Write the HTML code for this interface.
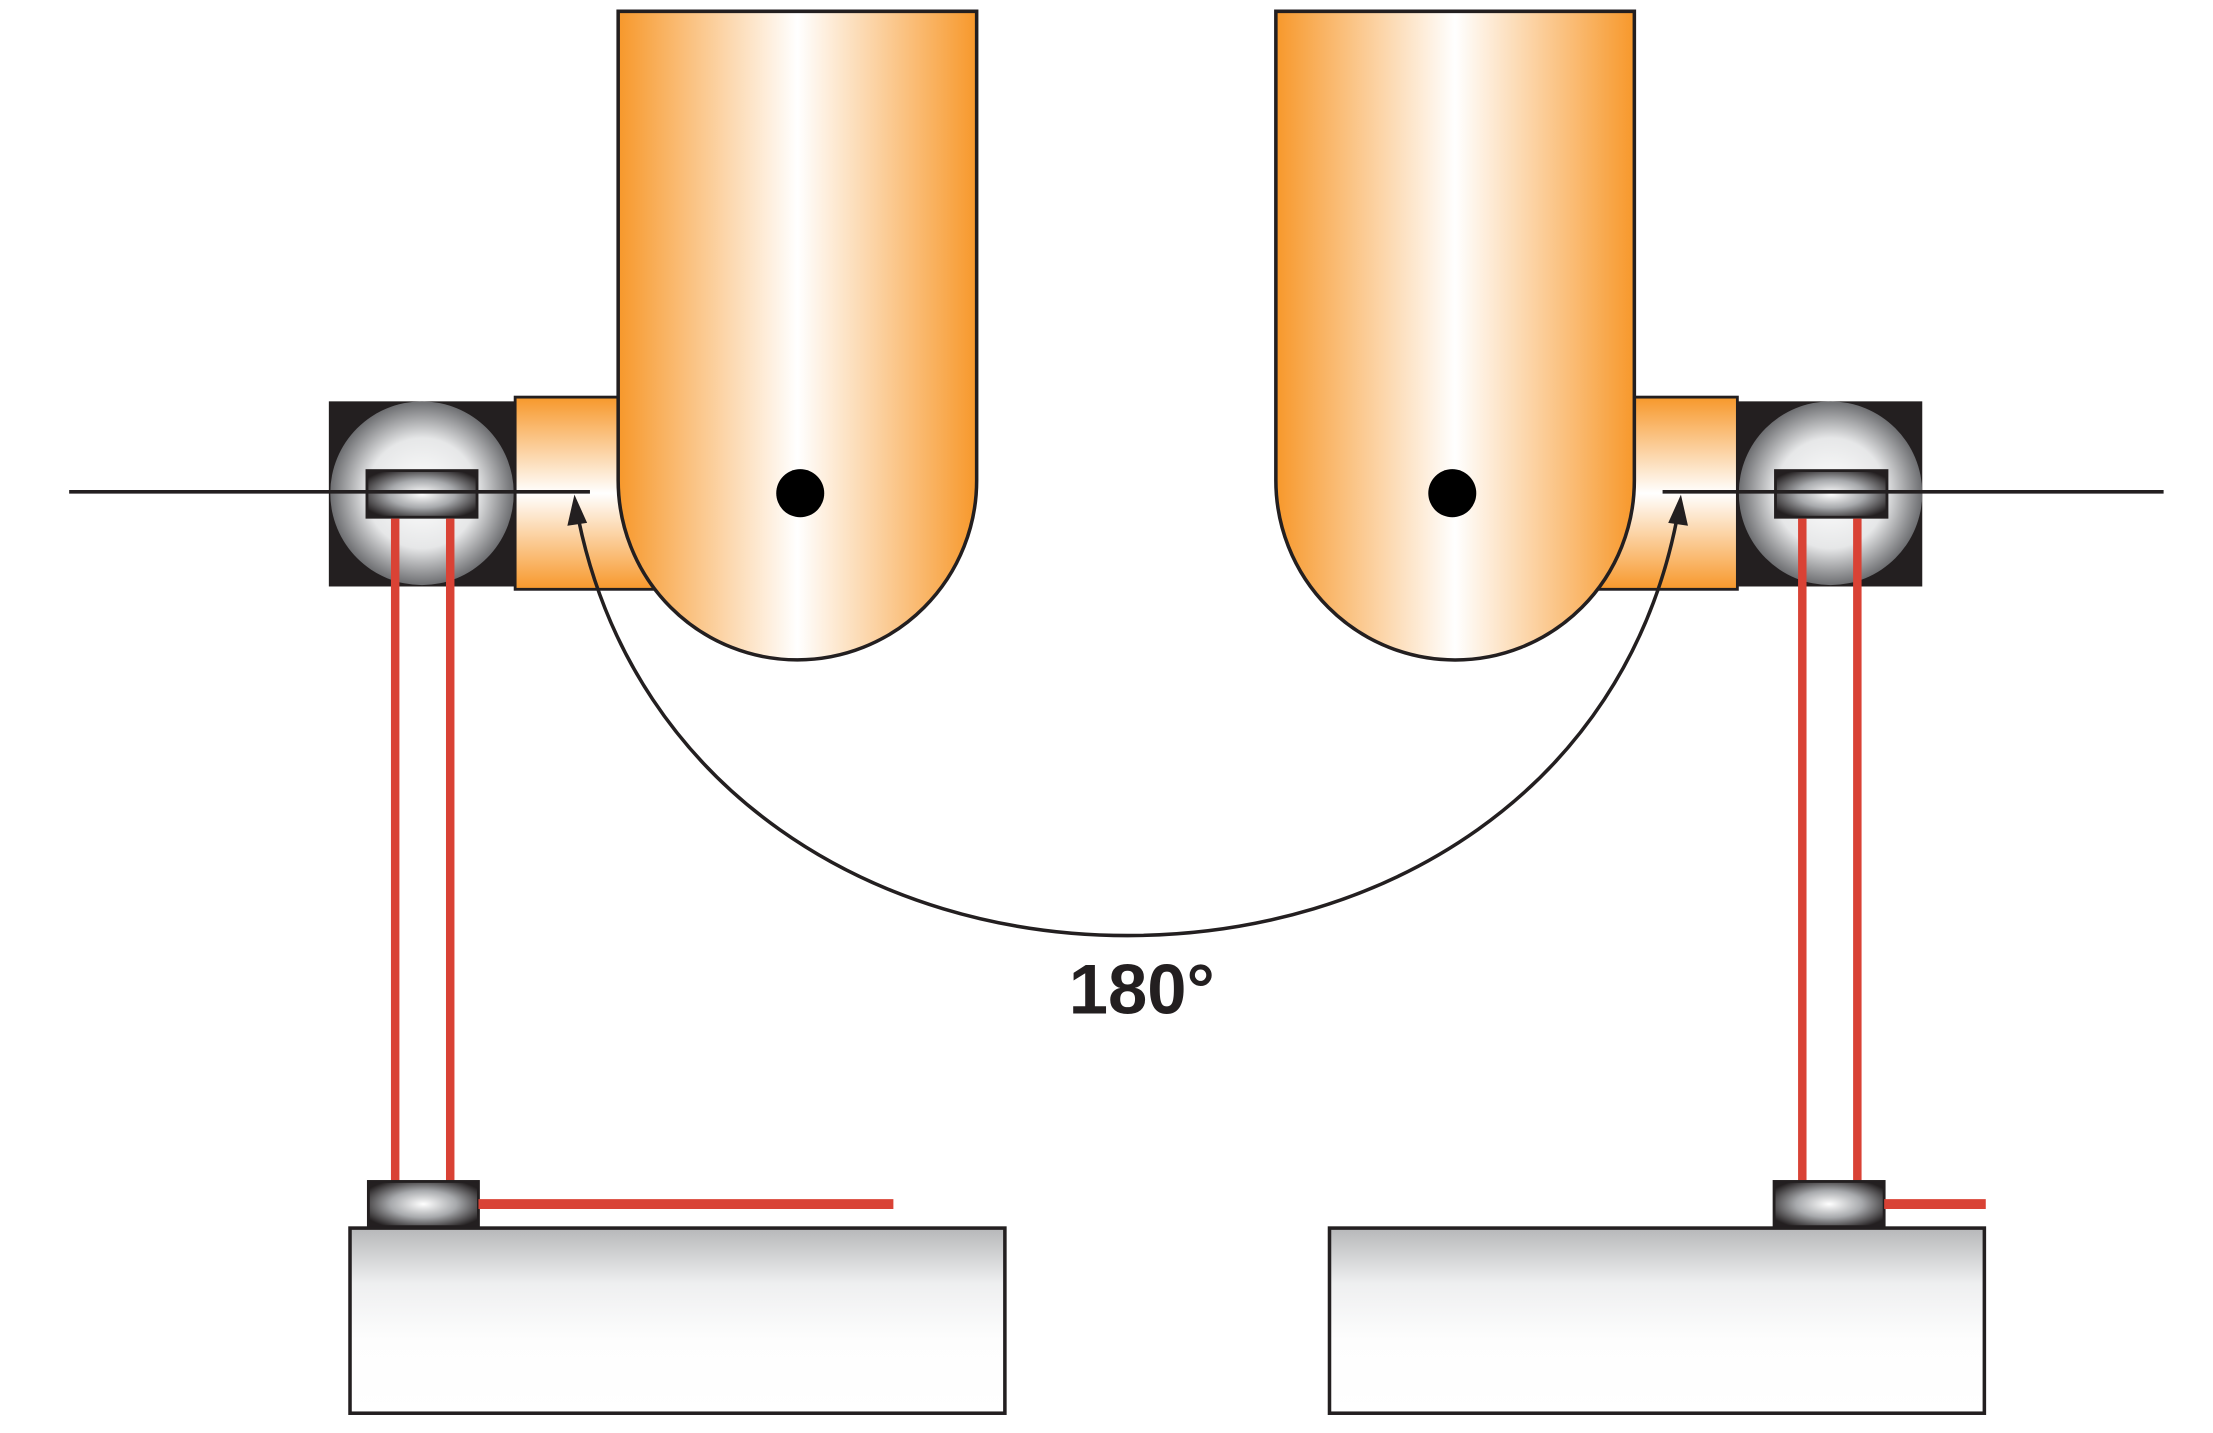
<!DOCTYPE html>
<html><head><meta charset="utf-8"><style>
html,body{margin:0;padding:0;background:#fff;}
svg{display:block;}
</style></head><body>
<svg width="2213" height="1433" viewBox="0 0 1568 1014" preserveAspectRatio="none" xmlns="http://www.w3.org/2000/svg">
<defs>
<linearGradient id="tube" x1="0" x2="1" y1="0" y2="0">
<stop offset="0" stop-color="#f7982b"/><stop offset="0.5" stop-color="#ffffff"/><stop offset="1" stop-color="#f7982b"/>
</linearGradient>
<linearGradient id="conn" x1="0" x2="0" y1="0" y2="1">
<stop offset="0" stop-color="#f7982b"/><stop offset="0.5" stop-color="#ffffff"/><stop offset="1" stop-color="#f7982b"/>
</linearGradient>
<radialGradient id="sph" cx="0.5" cy="0.5" r="0.5">
<stop offset="0" stop-color="#ffffff"/><stop offset="0.6" stop-color="#e6e7e8"/><stop offset="1" stop-color="#6d6e71"/>
</radialGradient>
<radialGradient id="small" cx="0.5" cy="0.5" r="0.6">
<stop offset="0" stop-color="#ffffff"/><stop offset="0.5" stop-color="#a7a9ac"/><stop offset="1" stop-color="#231f20"/>
</radialGradient>
<linearGradient id="plate" x1="0" x2="0" y1="0" y2="1">
<stop offset="0" stop-color="#b6b7b9"/><stop offset="0.3" stop-color="#eeeff0"/><stop offset="0.6" stop-color="#fdfdfd"/><stop offset="1" stop-color="#ffffff"/>
</linearGradient>
</defs>

<rect x="233" y="284" width="132" height="131" fill="#231f20"/>
<ellipse cx="299" cy="349" rx="65" ry="65" fill="url(#sph)"/>
<rect x="365" y="281" width="105" height="136" fill="url(#conn)" stroke="#231f20" stroke-width="2"/>
<path d="M438,8 H692 V340 A127,127 0 0 1 438,340 Z" fill="url(#tube)" stroke="#231f20" stroke-width="2.5"/>
<circle cx="567" cy="349" r="17" fill="#000"/>
<rect x="260" y="333" width="78" height="33" fill="url(#small)" stroke="#231f20" stroke-width="2"/>
<line x1="49" y1="348" x2="418" y2="348" stroke="#231f20" stroke-width="2.5"/>
<line x1="280" y1="367" x2="280" y2="836" stroke="#d94235" stroke-width="6"/>
<line x1="319" y1="367" x2="319" y2="836" stroke="#d94235" stroke-width="6"/>
<rect x="261" y="836" width="78" height="32" fill="url(#small)" stroke="#231f20" stroke-width="2"/>
<line x1="339" y1="852" x2="633" y2="852" stroke="#d94235" stroke-width="7"/>
<rect x="248" y="869" width="464" height="131" fill="url(#plate)" stroke="#231f20" stroke-width="2.5"/>

<rect x="1231" y="284" width="131" height="131" fill="#231f20"/>
<ellipse cx="1297" cy="349" rx="65" ry="65" fill="url(#sph)"/>
<rect x="1126" y="281" width="105" height="136" fill="url(#conn)" stroke="#231f20" stroke-width="2"/>
<path d="M904,8 H1158 V340 A127,127 0 0 1 904,340 Z" fill="url(#tube)" stroke="#231f20" stroke-width="2.5"/>
<circle cx="1029" cy="349" r="17" fill="#000"/>
<rect x="1258" y="333" width="79" height="33" fill="url(#small)" stroke="#231f20" stroke-width="2"/>
<line x1="1178" y1="348" x2="1533" y2="348" stroke="#231f20" stroke-width="2.5"/>
<line x1="1277" y1="367" x2="1277" y2="836" stroke="#d94235" stroke-width="6"/>
<line x1="1316" y1="367" x2="1316" y2="836" stroke="#d94235" stroke-width="6"/>
<rect x="1257" y="836" width="78" height="32" fill="url(#small)" stroke="#231f20" stroke-width="2"/>
<line x1="1335" y1="852" x2="1407" y2="852" stroke="#d94235" stroke-width="7"/>
<rect x="942" y="869" width="464" height="131" fill="url(#plate)" stroke="#231f20" stroke-width="2.5"/>

<path d="M410,368 C450,560 620,662 799,662 C980,662 1150,560 1188,368" fill="none" stroke="#231f20" stroke-width="2.5"/>
<polygon points="407,350 402,372 416,370" fill="#231f20"/>
<polygon points="1191,350 1182,370 1196,372" fill="#231f20"/>
<text x="809" y="717" text-anchor="middle" font-family="Liberation Sans, Arial, sans-serif" font-weight="bold" font-size="50" fill="#231f20">180°</text>
</svg>
</body></html>
